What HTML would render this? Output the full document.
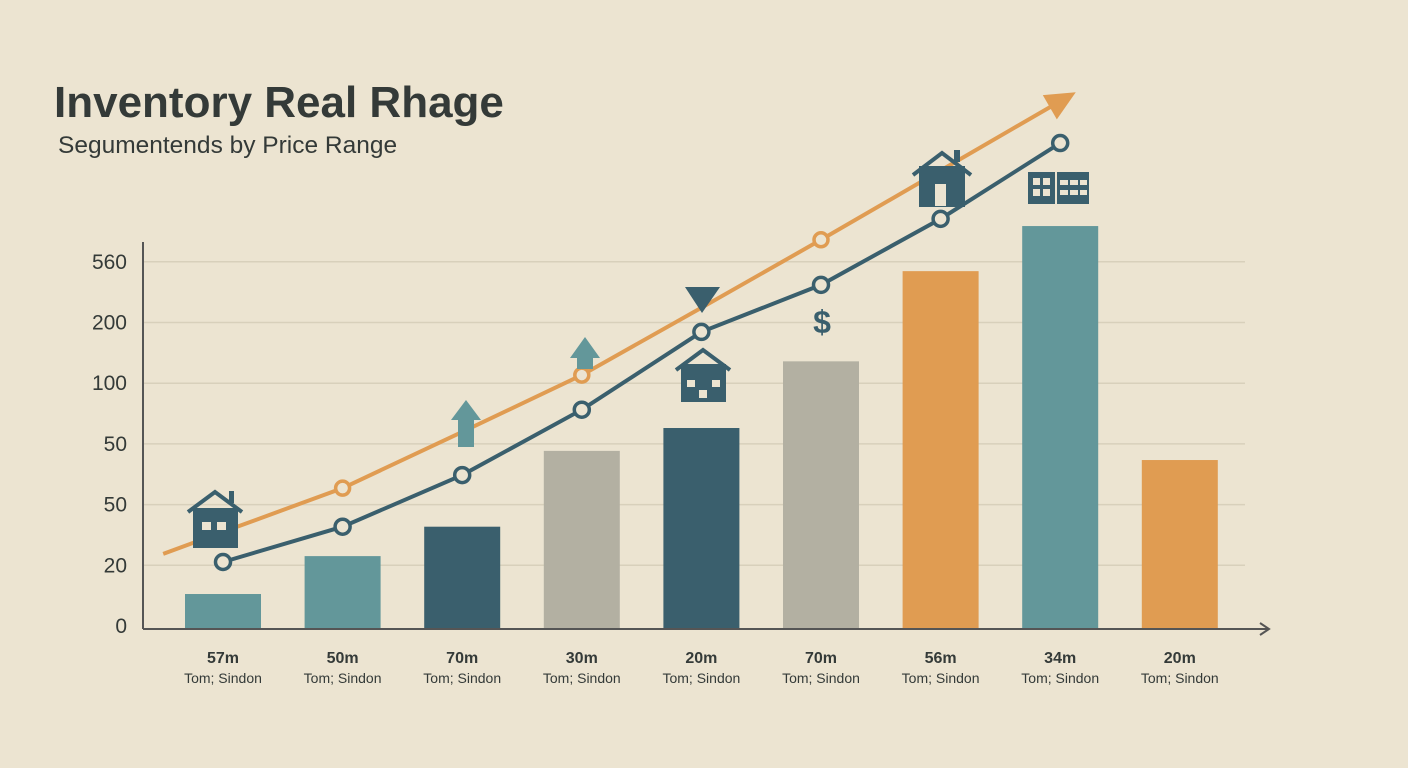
<!DOCTYPE html>
<html><head><meta charset="utf-8"><style>
body{margin:0;background:#ece4d1;font-family:"Liberation Sans",sans-serif;}
svg{display:block}
</style></head><body>
<svg id="chart" width="1408" height="768">
<rect width="1408" height="768" fill="#ece4d1"/>
<text x="54" y="117" font-size="44" font-weight="bold" fill="#343a38">Inventory Real Rhage</text>
<text x="58" y="153" font-size="24.5" fill="#343a38">Segumentends by Price Range</text>
<g id="grid"></g><g id="bars"></g><g id="lines"></g><g id="icons"></g><g id="labels"></g>
</svg>
<script>
const categories=["57m","50m","70m","30m","20m","70m","56m","34m","20m"];
const subLabels=["Tom; Sindon","Tom; Sindon","Tom; Sindon","Tom; Sindon","Tom; Sindon","Tom; Sindon","Tom; Sindon","Tom; Sindon","Tom; Sindon"];
const barValues=[52,110,155,271,306,408,546,615,257];
const barColors=["#63979a","#63979a","#3a5f6d","#b3b0a2","#3a5f6d","#b3b0a2","#e09c52","#63979a","#e09c52"];
const darkLine=[101,155,234,334,453,525,626,742];
const orangeLine=[147,214,300,387,490,594,700,806];
const tickLabels=["0","20","50","50","100","200","560"];
const NS="http://www.w3.org/2000/svg";
const base=628,pxPer=366/560,x0=223,step=119.6;
const xS=i=>x0+i*step;
const yS=v=>base-v*pxPer;
function mk(tag,attrs,parent,text){const e=document.createElementNS(NS,tag);for(const k in attrs)e.setAttribute(k,attrs[k]);if(text!==undefined)e.textContent=text;document.getElementById(parent).appendChild(e);return e;}
tickLabels.forEach((t,i)=>{const y=626-i*60.7;
 if(i>0){const g=mk('line',{x1:143,x2:1245,y1:y,y2:y,stroke:'#d8d0bb','stroke-width':1.5},'grid');
 
 }
 const tl=mk('text',{x:127,y:y+7,'font-size':21,fill:'#343a38','text-anchor':'end'},'grid',t);
 
 
});
const ya=mk('line',{x1:143,x2:143,y1:242,y2:629,stroke:'#555','stroke-width':2},'grid');


const xa=mk('path',{d:'M143 629H1268M1260 623L1269 629L1260 635',stroke:'#555','stroke-width':2,fill:'none'},'grid');


barValues.forEach((v,i)=>{const b=mk('rect',{x:xS(i)-38,y:yS(v),width:76,height:base-yS(v),fill:barColors[i]},'bars');
 
 
 const l1=mk('text',{x:xS(i),y:663,'font-size':16,'font-weight':'bold',fill:'#343a38','text-anchor':'middle'},'labels',categories[i]);
 
 
 const l2=mk('text',{x:xS(i),y:683,'font-size':14,fill:'#343a38','text-anchor':'middle'},'labels',subLabels[i]);
 
 
});
let op=orangeLine.map((v,i)=>[xS(i),yS(v)]);
const s0=[xS(-0.5),yS(orangeLine[0]-(orangeLine[1]-orangeLine[0])/2)];
const last=op[op.length-1],prev=op[op.length-2];
const ol=mk('polyline',{points:[s0].concat(op).map(p=>p.join(',')).join(' '),fill:'none',stroke:'#e09c52','stroke-width':4},'lines');


const ang=Math.atan2(last[1]-prev[1],last[0]-prev[0]);
const tip=[last[0]+18*Math.cos(ang),last[1]+18*Math.sin(ang)];
const bl=[last[0]-12*Math.cos(ang)+14*Math.sin(ang),last[1]-12*Math.sin(ang)-14*Math.cos(ang)];
const br=[last[0]-12*Math.cos(ang)-14*Math.sin(ang),last[1]-12*Math.sin(ang)+14*Math.cos(ang)];
const oa=mk('polygon',{points:[tip,bl,br].map(p=>p.join(',')).join(' '),fill:'#e09c52'},'lines');


op.forEach((p,i)=>{if(i%2==1&&i<7){const c=mk('circle',{cx:p[0],cy:p[1],r:7,fill:'#ece4d1',stroke:'#e09c52','stroke-width':3.5},'lines');
 
 }});
const dp=darkLine.map((v,i)=>[xS(i),yS(v)]);
const dl=mk('polyline',{points:dp.map(p=>p.join(',')).join(' '),fill:'none',stroke:'#3a5f6d','stroke-width':4},'lines');


dp.forEach(p=>{const c=mk('circle',{cx:p[0],cy:p[1],r:7.5,fill:'#ece4d1',stroke:'#3a5f6d','stroke-width':3.5},'lines');
 
 });
const ic=document.getElementById('icons');
ic.innerHTML=`
<g fill="#3a5f6d">
<path d="M188 512L215 492L242 512" stroke="#3a5f6d" stroke-width="4" fill="none"/><rect x="229" y="491" width="5" height="12"/>
<rect x="193" y="508" width="45" height="40"/><rect x="202" y="522" width="9" height="8" fill="#ece4d1"/><rect x="217" y="522" width="9" height="8" fill="#ece4d1"/></g>
<g fill="#63979a"><polygon points="451,420 466,400 481,420"/><rect x="458" y="419" width="16" height="28"/></g>
<g fill="#63979a"><polygon points="570,358 585,337 600,358"/><rect x="577" y="357" width="16" height="12"/></g>
<polygon points="685,287 720,287 702,313" fill="#3a5f6d"/>
<g fill="#3a5f6d"><path d="M676 370L703 350L730 370" stroke="#3a5f6d" stroke-width="4" fill="none"/>
<rect x="681" y="364" width="45" height="38"/><rect x="687" y="380" width="8" height="7" fill="#ece4d1"/><rect x="712" y="380" width="8" height="7" fill="#ece4d1"/><rect x="699" y="390" width="8" height="8" fill="#ece4d1"/></g>
<text x="822" y="333" font-size="32" font-weight="bold" fill="#3a5f6d" text-anchor="middle">$</text>
<g fill="#3a5f6d"><path d="M913 175L942 153L971 175" stroke="#3a5f6d" stroke-width="4" fill="none"/><rect x="954" y="150" width="6" height="12"/>
<rect x="919" y="166" width="46" height="41"/><rect x="935" y="184" width="11" height="22" fill="#ece4d1"/></g>
<g fill="#3a5f6d"><rect x="1028" y="172" width="27" height="32"/><rect x="1057" y="172" width="32" height="32"/>
<rect x="1033" y="178" width="7" height="7" fill="#ece4d1"/><rect x="1043" y="178" width="7" height="7" fill="#ece4d1"/><rect x="1033" y="189" width="7" height="7" fill="#ece4d1"/><rect x="1043" y="189" width="7" height="7" fill="#ece4d1"/>
<rect x="1060" y="180" width="8" height="5" fill="#ece4d1"/><rect x="1070" y="180" width="8" height="5" fill="#ece4d1"/><rect x="1080" y="180" width="7" height="5" fill="#ece4d1"/>
<rect x="1060" y="190" width="8" height="5" fill="#ece4d1"/><rect x="1070" y="190" width="8" height="5" fill="#ece4d1"/><rect x="1080" y="190" width="7" height="5" fill="#ece4d1"/></g>`;
</script>
</body></html>
